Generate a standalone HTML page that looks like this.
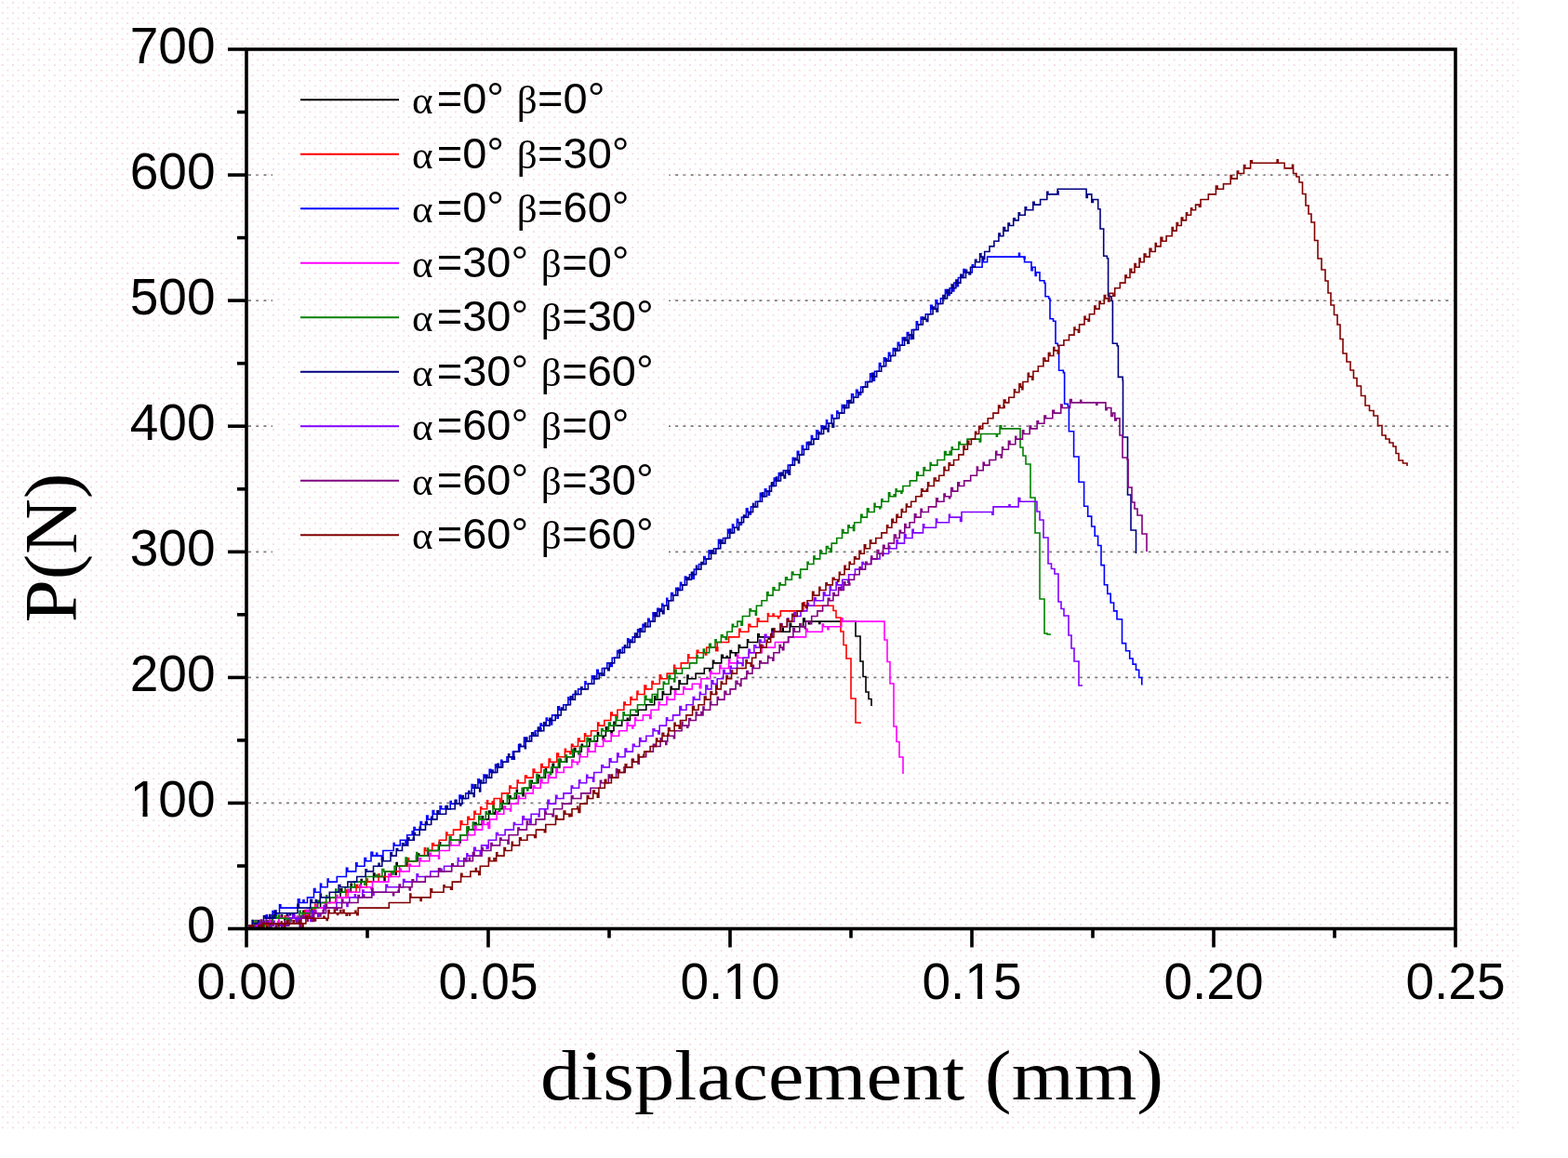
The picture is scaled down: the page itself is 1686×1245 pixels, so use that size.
<!DOCTYPE html>
<html><head><meta charset="utf-8"><title>P-displacement</title>
<style>
html,body{margin:0;padding:0;background:#fff;}
body{width:1686px;height:1245px;overflow:hidden;}
svg{display:block;}
.t{font-family:"Liberation Sans",Arial,sans-serif;}
.s{font-family:"Liberation Serif","Times New Roman",serif;}
</style></head><body>
<svg width="1686" height="1245" viewBox="0 0 1686 1245">
<rect x="0" y="0" width="1686" height="1245" fill="#ffffff"/>
<g stroke="#7a7a7a" stroke-width="1.8" stroke-dasharray="3 5.2" fill="none"><line x1="267.0" y1="863.4" x2="1563.0" y2="863.4"/><line x1="267.0" y1="728.4" x2="1563.0" y2="728.4"/><line x1="267.0" y1="593.3" x2="1563.0" y2="593.3"/><line x1="267.0" y1="458.2" x2="1563.0" y2="458.2"/><line x1="267.0" y1="323.1" x2="1563.0" y2="323.1"/><line x1="267.0" y1="188.1" x2="1563.0" y2="188.1"/></g>
<rect x="293" y="62" width="426" height="546" fill="#ffffff"/>
<defs><pattern id="dots" x="0" y="0" width="11.2" height="11.2" patternUnits="userSpaceOnUse"><circle cx="2.8" cy="2.8" r="0.95" fill="#f2cddd"/><circle cx="8.4" cy="8.4" r="0.95" fill="#f2cddd"/><circle cx="8.4" cy="2.8" r="0.9" fill="#eef8fa"/><circle cx="2.8" cy="8.4" r="0.9" fill="#f2f9e8"/></pattern></defs>
<rect x="0" y="0" width="1633" height="1217" fill="url(#dots)"/>
<path d="M265.0 998.5 H268.1 V995.6 H269.1 V998.5 H274.3 V989.8 H275.8 V992.9 H280.6 V990.0 H281.6 V992.9 H286.8 V996.5 H287.8 V992.9 H289.9 V989.3 H290.9 V992.9 H293.0 V983.6 H294.4 V987.3 H302.5 V983.9 H303.5 V987.3 H305.8 V989.0 H306.8 V987.3 H309.0 V990.6 H310.0 V987.3 H318.8 V990.8 H319.8 V987.3 H325.2 V984.8 H326.2 V987.3 H325.9 V979.3 H327.6 V981.7 H328.9 V984.8 H329.9 V981.7 H331.9 V985.2 H332.9 V981.7 H334.9 V979.1 H335.9 V981.7 H335.3 V976.1 H344.6 V970.5 H354.7 V964.9 H366.0 V955.7 H367.7 V959.3 H377.2 V950.3 H378.3 V953.7 H388.2 V945.6 H389.2 V948.1 H401.6 V939.0 H402.9 V942.5 H413.1 V946.7 H414.0 V936.9 H425.2 V940.2 H426.2 V936.9 H426.1 V927.5 H427.2 V931.3 H437.3 V929.6 H438.3 V931.3 H437.5 V923.7 H438.6 V925.7 H449.0 V918.1 H450.7 V920.1 H460.5 V914.5 H472.2 V905.7 H473.6 V908.9 H483.6 V903.3 H493.9 V905.9 H495.1 V897.7 H503.1 V889.1 H504.0 V892.1 H510.5 V884.5 H512.0 V886.5 H518.2 V877.7 H519.5 V880.9 H525.5 V872.0 H527.1 V875.3 H531.1 V873.5 H532.1 V875.3 H532.7 V869.7 H540.0 V861.0 H541.2 V864.1 H547.7 V855.8 H549.1 V858.5 H555.4 V849.4 H556.3 V852.9 H562.0 V855.6 H563.1 V847.3 H571.1 V839.4 H572.3 V841.7 H578.8 V833.5 H580.0 V836.1 H586.5 V826.9 H587.5 V830.5 H594.2 V821.2 H595.5 V824.9 H601.9 V816.3 H603.0 V819.3 H609.6 V813.7 H617.3 V804.6 H618.8 V808.1 H625.3 V800.3 H626.4 V802.5 H633.9 V794.3 H635.2 V796.9 H642.5 V787.5 H643.6 V791.3 H648.2 V795.1 H649.2 V791.3 H651.4 V781.8 H652.9 V785.7 H657.1 V788.4 H658.1 V785.7 H660.0 V776.4 H661.7 V780.1 H668.7 V774.5 H674.4 V772.3 H675.4 V774.5 H677.5 V768.9 H686.2 V763.3 H694.8 V757.7 H703.7 V748.7 H704.7 V752.1 H712.3 V743.5 H713.6 V746.5 H721.2 V738.3 H722.3 V740.9 H730.1 V731.8 H731.3 V735.3 H739.0 V726.1 H740.0 V729.7 H748.1 V724.1 H757.3 V718.5 H762.9 V721.6 H763.9 V718.5 H766.5 V710.4 H767.7 V712.9 H775.7 V704.4 H777.3 V707.3 H781.3 V705.5 H782.3 V707.3 H785.1 V699.6 H786.5 V701.7 H790.7 V705.0 H791.7 V701.7 H794.3 V693.5 H795.6 V696.1 H803.6 V687.8 H804.6 V690.5 H814.8 V681.9 H816.3 V684.9 H826.2 V687.0 H827.2 V684.9 H830.0 V676.1 H831.4 V679.3 H841.2 V675.6 H842.2 V679.3 H849.3 V670.4 H850.6 V673.7 H863.7 V665.1 H865.3 V668.1 H869.4 V670.7 H870.4 V668.1 H880.8 V670.5 H881.8 V668.1 H917.0 H920.0 V684.0 H925.0 V711.0 H928.0 V727.5 H931.0 V744.0 H934.0 V751.5 H937.0 V759.0" fill="none" stroke="#000000" stroke-width="1.6" stroke-linejoin="miter"/>
<path d="M265.0 998.5 H268.2 V995.9 H269.2 V998.5 H271.3 V995.0 H272.3 V998.5 H276.7 V989.9 H277.9 V992.9 H279.8 V996.7 H280.8 V992.9 H283.0 V996.5 H284.0 V992.9 H286.1 V995.2 H287.1 V992.9 H289.3 V996.1 H290.3 V992.9 H292.5 V989.5 H293.5 V992.9 H299.8 V985.3 H300.8 V987.3 H306.2 V984.8 H307.2 V987.3 H309.4 V990.2 H310.4 V987.3 H312.6 V990.4 H313.6 V987.3 H319.1 V989.5 H320.1 V987.3 H322.3 V989.1 H323.3 V987.3 H327.9 V978.7 H329.6 V981.7 H331.0 V984.7 H332.0 V981.7 H337.3 V977.9 H338.3 V981.7 H338.8 V972.2 H339.9 V976.1 H349.6 V970.5 H360.8 V962.7 H362.2 V964.9 H372.0 V956.7 H373.5 V959.3 H383.0 V951.4 H384.6 V953.7 H394.3 V945.1 H395.3 V948.1 H407.0 V939.7 H408.0 V942.5 H420.6 V936.9 H429.6 V931.3 H438.5 V922.8 H439.6 V925.7 H447.4 V920.1 H456.4 V911.9 H457.6 V914.5 H464.7 V906.7 H466.4 V908.9 H472.3 V903.3 H479.8 V895.1 H480.9 V897.7 H487.5 V892.1 H495.2 V882.9 H496.8 V886.5 H502.9 V878.4 H504.5 V880.9 H509.9 V872.3 H511.3 V875.3 H516.7 V867.7 H517.8 V869.7 H523.7 V860.9 H524.6 V864.1 H529.3 V861.8 H530.3 V864.1 H530.2 V868.3 H531.2 V858.5 H537.7 V862.9 H539.5 V852.9 H547.9 V845.1 H549.3 V847.3 H556.2 V839.1 H557.2 V841.7 H564.6 V834.0 H566.4 V836.1 H573.2 V827.1 H574.7 V830.5 H581.8 V821.6 H583.2 V824.9 H590.2 V816.1 H591.6 V819.3 H598.8 V810.0 H600.5 V813.7 H607.4 V805.3 H608.4 V808.1 H612.9 V810.4 H613.9 V808.1 H614.5 V800.2 H616.0 V802.5 H621.5 V794.0 H623.2 V796.9 H628.6 V788.7 H629.7 V791.3 H635.6 V785.7 H642.7 V777.1 H643.9 V780.1 H649.8 V774.5 H656.8 V766.1 H658.2 V768.9 H662.4 V771.6 H663.9 V763.3 H670.9 V755.0 H672.2 V757.7 H678.0 V749.5 H679.4 V752.1 H685.0 V743.4 H686.0 V746.5 H693.0 V737.0 H694.7 V740.9 H701.0 V732.6 H702.2 V735.3 H709.3 V725.9 H710.7 V729.7 H717.2 V724.1 H724.7 V715.4 H725.6 V718.5 H732.3 V712.9 H739.8 V703.8 H740.8 V707.3 H749.3 V699.4 H750.8 V701.7 H758.4 V703.9 H759.7 V696.1 H770.8 V699.8 H771.8 V696.1 H769.7 V699.6 H771.2 V690.5 H783.6 V684.9 H794.8 V676.2 H796.1 V679.3 H804.9 V671.4 H806.7 V673.7 H814.3 V665.0 H816.0 V668.1 H825.5 V659.8 H826.5 V662.5 H831.1 V660.1 H832.1 V662.5 H836.6 V664.6 H837.6 V662.5 H839.3 V656.9 H863.9 V647.9 H865.3 V651.3 H893.0 H896.0 V656.5 H899.0 V664.0 H904.0 V679.0 H907.0 V693.5 H910.0 V708.0 H915.0 V751.0 H920.0 V777.0 H925.0 V778.0" fill="none" stroke="#ff0000" stroke-width="1.6" stroke-linejoin="miter"/>
<path d="M265.0 998.5 H268.2 V995.0 H269.2 V998.5 H271.4 V995.1 H272.4 V998.5 H274.6 V996.8 H275.6 V998.5 H275.4 V997.5 H277.0 V992.9 H286.3 V983.9 H287.3 V987.3 H289.4 V985.3 H290.4 V987.3 H292.5 V984.0 H293.5 V987.3 H293.1 V979.5 H294.7 V981.7 H296.3 V984.3 H297.3 V981.7 H300.5 V972.8 H301.8 V976.1 H320.4 V966.8 H322.0 V970.5 H326.0 V967.8 H327.0 V970.5 H330.5 V964.9 H337.5 V955.5 H338.9 V959.3 H344.5 V950.2 H345.6 V953.7 H352.2 V945.1 H353.2 V948.1 H362.3 V942.5 H372.4 V933.2 H373.8 V936.9 H382.7 V927.9 H384.0 V931.3 H392.0 V922.5 H393.5 V925.7 H399.0 V916.2 H400.7 V920.1 H404.7 V917.2 H405.7 V920.1 H410.4 V924.5 H411.9 V914.5 H423.2 V906.6 H424.2 V908.9 H430.3 V903.3 H436.1 V907.6 H437.7 V897.7 H443.2 V893.9 H444.2 V897.7 H445.0 V889.5 H446.2 V892.1 H452.1 V883.5 H453.5 V886.5 H458.7 V877.1 H460.1 V880.9 H465.2 V871.6 H466.6 V875.3 H473.1 V866.9 H474.6 V869.7 H478.8 V867.0 H479.8 V869.7 H484.2 V861.5 H485.2 V864.1 H494.0 V855.1 H495.4 V858.5 H500.7 V852.9 H507.2 V843.5 H508.6 V847.3 H513.9 V837.8 H515.4 V841.7 H520.1 V833.0 H521.4 V836.1 H526.2 V827.4 H527.8 V830.5 H532.6 V822.1 H534.0 V824.9 H538.8 V817.3 H539.9 V819.3 H545.0 V813.7 H550.2 V816.2 H551.4 V808.1 H557.6 V800.5 H558.9 V802.5 H563.5 V793.0 H564.4 V796.9 H569.5 V791.3 H575.1 V788.4 H576.1 V791.3 H575.3 V785.7 H580.9 V783.1 H581.9 V785.7 H581.1 V778.0 H582.5 V780.1 H587.3 V772.0 H588.5 V774.5 H592.3 V778.9 H593.6 V768.9 H599.2 V772.3 H600.2 V768.9 H599.8 V759.9 H601.4 V763.3 H605.8 V757.7 H610.9 V749.9 H611.9 V752.1 H616.0 V746.5 H621.6 V740.9 H629.0 V732.8 H630.0 V735.3 H636.4 V726.8 H637.4 V729.7 H641.8 V720.2 H643.2 V724.1 H646.1 V726.3 H647.4 V718.5 H652.8 V712.9 H656.5 V716.4 H658.2 V707.3 H663.7 V699.5 H665.1 V701.7 H669.3 V696.1 H674.7 V686.8 H675.9 V690.5 H680.2 V684.9 H685.6 V676.9 H687.3 V679.3 H691.1 V671.3 H692.5 V673.7 H696.7 V665.3 H698.1 V668.1 H702.1 V658.7 H703.4 V662.5 H706.8 V654.2 H708.3 V656.9 H711.8 V649.2 H712.8 V651.3 H716.8 V643.3 H717.7 V645.7 H721.7 V637.6 H723.4 V640.1 H726.7 V632.2 H727.7 V634.5 H731.5 V626.2 H732.7 V628.9 H736.4 V620.1 H737.7 V623.3 H741.4 V617.7 H744.9 V622.1 H746.3 V612.1 H751.5 V606.5 H756.8 V598.5 H758.2 V600.9 H762.2 V591.9 H763.4 V595.3 H767.5 V589.7 H772.5 V580.2 H774.0 V584.1 H777.5 V578.5 H782.5 V569.2 H783.9 V572.9 H787.5 V564.1 H788.7 V567.3 H792.4 V558.4 H793.7 V561.7 H796.2 V564.1 H797.4 V556.1 H802.4 V546.9 H804.0 V550.5 H805.8 V553.0 H807.4 V544.9 H812.4 V539.3 H817.4 V530.4 H818.6 V533.7 H822.4 V525.9 H823.8 V528.1 H826.4 V532.1 H827.4 V522.5 H832.3 V514.1 H833.6 V516.9 H837.3 V508.6 H838.5 V511.3 H842.3 V505.7 H846.1 V508.5 H847.3 V500.1 H852.3 V492.2 H853.2 V494.5 H857.3 V485.2 H858.8 V488.9 H862.3 V479.4 H863.6 V483.3 H867.3 V475.5 H868.3 V477.7 H872.4 V468.5 H873.6 V472.1 H877.8 V462.8 H879.5 V466.5 H883.2 V457.9 H884.6 V460.9 H888.5 V451.8 H889.5 V455.3 H894.1 V446.3 H895.2 V449.7 H899.8 V442.0 H900.9 V444.1 H905.3 V435.6 H906.4 V438.5 H910.7 V430.9 H911.9 V432.9 H915.6 V423.8 H917.4 V427.3 H920.6 V419.3 H922.1 V421.7 H924.0 V424.5 H925.6 V416.1 H930.6 V410.5 H935.6 V401.8 H936.6 V404.9 H938.9 V409.2 H940.4 V399.3 H945.4 V390.5 H946.8 V393.7 H950.4 V384.8 H952.0 V388.1 H955.4 V379.4 H956.9 V382.5 H960.3 V374.5 H961.9 V376.9 H965.3 V368.2 H966.7 V371.3 H970.3 V363.0 H971.8 V365.7 H975.3 V357.5 H976.9 V360.1 H979.3 V364.4 H980.3 V354.5 H985.3 V345.9 H986.6 V348.9 H990.2 V341.1 H991.9 V343.3 H995.3 V337.7 H1000.7 V328.3 H1002.2 V332.1 H1006.1 V322.9 H1007.7 V326.5 H1011.4 V320.9 H1016.4 V311.6 H1018.0 V315.3 H1019.5 V317.5 H1021.1 V309.7 H1024.5 V312.9 H1025.8 V304.1 H1029.0 V307.8 H1030.4 V298.5 H1036.0 V289.5 H1037.4 V292.9 H1045.3 V284.7 H1046.5 V287.3 H1056.1 V277.9 H1057.5 V281.7 H1061.6 V276.1 H1095.5 V272.3 H1096.5 V276.1 H1101.1 V277.9 H1102.1 V276.1 H1101.6 V281.7 H1109.0 V290.6 H1110.3 V287.3 H1113.2 V296.4 H1114.1 V292.9 H1115.7 H1118.0 V301.8 H1122.9 V304.2 H1124.0 V318.7 H1127.7 V321.0 H1129.0 V342.8 H1132.5 V345.2 H1135.0 V369.3 H1137.3 V371.7 H1138.6 V398.2 H1143.4 V400.6 H1144.6 V434.3 H1148.2 V436.7 H1149.4 V463.7 H1154.6 V491.0 H1160.0 V518.3 H1165.6 V544.2 H1169.7 V555.1 H1173.7 V566.0 H1177.2 V576.2 H1180.6 V586.5 H1184.0 V607.6 H1187.4 V628.8 H1190.8 V638.4 H1194.2 V648.0 H1197.6 V656.9 H1201.0 V665.7 H1206.5 V691.6 H1210.6 V699.8 H1214.7 V708.0 H1218.1 V714.1 H1221.5 V720.3 H1224.7 V728.5 H1227.8 V736.6" fill="none" stroke="#0000ff" stroke-width="1.6" stroke-linejoin="miter"/>
<path d="M265.0 998.5 H274.5 V994.6 H275.5 V998.5 H276.7 V989.6 H278.2 V992.9 H286.1 V989.2 H287.1 V992.9 H289.3 V989.3 H290.3 V992.9 H292.5 V995.0 H293.5 V992.9 H298.8 V990.5 H299.8 V992.9 H299.8 V984.8 H301.2 V987.3 H309.5 V984.2 H310.5 V987.3 H316.0 V983.6 H317.0 V987.3 H319.2 V985.1 H320.2 V987.3 H329.6 V978.3 H331.3 V981.7 H332.7 V978.9 H333.7 V981.7 H338.8 V979.6 H339.8 V981.7 H339.5 V973.6 H340.8 V976.1 H348.5 V978.3 H349.6 V970.5 H361.9 V962.5 H363.1 V964.9 H367.6 V967.4 H368.6 V964.9 H374.2 V956.2 H375.5 V959.3 H386.8 V951.6 H388.1 V953.7 H398.7 V955.8 H400.5 V948.1 H417.8 V939.7 H419.1 V942.5 H429.6 V934.3 H431.3 V936.9 H440.2 V929.3 H441.4 V931.3 H451.1 V922.9 H452.6 V925.7 H461.8 V917.4 H463.4 V920.1 H471.5 V923.1 H472.4 V914.5 H483.3 V905.4 H485.0 V908.9 H494.0 V903.3 H502.6 V895.4 H503.5 V897.7 H510.6 V888.3 H512.0 V892.1 H518.6 V882.8 H520.2 V886.5 H524.1 V884.4 H525.1 V886.5 H525.1 V890.4 H526.6 V880.9 H534.1 V872.7 H535.6 V875.3 H541.8 V867.0 H543.5 V869.7 H548.5 V872.0 H549.5 V864.1 H557.2 V855.7 H558.4 V858.5 H565.2 V852.9 H573.2 V845.1 H574.9 V847.3 H581.2 V838.0 H582.9 V841.7 H589.5 V833.4 H590.9 V836.1 H598.0 V826.6 H599.3 V830.5 H606.3 V824.9 H614.9 V817.0 H616.5 V819.3 H620.5 V821.6 H621.5 V819.3 H623.2 V810.3 H624.3 V813.7 H631.7 V804.3 H633.1 V808.1 H640.1 V799.3 H641.5 V802.5 H648.6 V794.5 H650.3 V796.9 H657.2 V788.7 H658.2 V791.3 H665.6 V785.7 H674.2 V777.0 H675.3 V780.1 H679.8 V782.9 H680.8 V780.1 H682.8 V771.5 H683.7 V774.5 H691.4 V768.9 H698.7 V772.4 H700.0 V763.3 H708.3 V754.7 H709.4 V757.7 H716.9 V749.4 H718.1 V752.1 H725.5 V742.8 H726.7 V746.5 H734.8 V738.9 H736.4 V740.9 H744.3 V735.3 H752.3 V739.7 H753.8 V729.7 H763.7 V721.7 H765.1 V724.1 H773.8 V715.3 H775.0 V718.5 H783.6 V709.0 H784.7 V712.9 H792.6 V704.2 H793.7 V707.3 H805.1 V701.7 H819.2 V693.8 H820.8 V696.1 H833.4 V690.5 H848.1 V684.9 H866.6 V676.3 H868.2 V679.3 H884.3 V671.1 H885.4 V673.7 H890.0 V676.7 H891.0 V673.7 H904.8 V664.9 H906.0 V668.1 H947.0 H951.0 V688.0 H954.0 V711.5 H957.0 V735.0 H961.0 V781.0 H964.0 V797.5 H967.0 V814.0 H971.0 V832.0" fill="none" stroke="#ff00ff" stroke-width="1.6" stroke-linejoin="miter"/>
<path d="M265.0 998.5 H268.1 V996.6 H269.1 V998.5 H271.2 V996.7 H272.2 V998.5 H274.3 V989.5 H275.4 V992.9 H280.6 V991.1 H281.6 V992.9 H283.7 V995.6 H284.7 V992.9 H286.8 V989.9 H287.8 V992.9 H289.9 V996.7 H290.9 V992.9 H293.0 V984.9 H294.3 V987.3 H296.2 V985.1 H297.2 V987.3 H299.3 V984.1 H300.3 V987.3 H308.9 V989.4 H309.9 V987.3 H312.1 V990.6 H313.1 V987.3 H318.6 V990.8 H319.6 V987.3 H321.8 V984.2 H322.8 V987.3 H322.0 V979.2 H323.2 V981.7 H325.2 V984.5 H326.2 V981.7 H333.1 V976.1 H341.7 V968.2 H343.2 V970.5 H350.7 V962.8 H351.7 V964.9 H360.8 V956.0 H361.8 V959.3 H371.1 V953.7 H381.2 V948.1 H391.9 V951.2 H393.5 V942.5 H404.9 V940.6 H405.9 V942.5 H410.9 V934.6 H412.7 V936.9 H422.0 V940.0 H423.0 V936.9 H424.1 V931.3 H436.1 V922.1 H437.4 V925.7 H447.8 V916.5 H448.7 V920.1 H459.6 V912.1 H460.6 V914.5 H471.3 V908.9 H483.3 V899.5 H485.0 V903.3 H495.1 V897.7 H501.9 V889.0 H503.3 V892.1 H508.4 V884.1 H509.4 V886.5 H514.8 V877.3 H516.0 V880.9 H522.3 V872.7 H523.3 V875.3 H530.0 V866.2 H530.9 V869.7 H536.5 V872.2 H537.7 V864.1 H545.4 V854.8 H546.6 V858.5 H553.4 V852.9 H561.2 V847.3 H566.8 V850.0 H567.8 V847.3 H569.2 V839.3 H570.9 V841.7 H577.0 V832.5 H578.2 V836.1 H584.9 V827.9 H586.4 V830.5 H591.5 V832.6 H592.6 V824.9 H600.3 V816.4 H602.0 V819.3 H608.0 V811.7 H609.3 V813.7 H615.7 V806.1 H616.6 V808.1 H621.7 V810.8 H623.4 V802.5 H631.1 V793.4 H632.2 V796.9 H639.0 V791.3 H646.7 V783.6 H648.2 V785.7 H654.5 V777.1 H656.2 V780.1 H662.2 V770.9 H663.4 V774.5 H670.1 V765.9 H671.2 V768.9 H677.8 V763.3 H683.8 V765.4 H685.5 V757.7 H693.3 V748.2 H694.9 V752.1 H698.9 V754.3 H699.9 V752.1 H699.6 V755.1 H701.2 V746.5 H706.2 V750.8 H707.3 V740.9 H713.3 V733.2 H714.6 V735.3 H719.1 V726.3 H720.6 V729.7 H724.7 V732.9 H725.7 V729.7 H725.8 V720.2 H727.1 V724.1 H733.5 V718.5 H741.5 V712.9 H749.2 V704.9 H750.2 V707.3 H756.3 V698.0 H757.5 V701.7 H762.7 V692.2 H764.3 V696.1 H769.0 V687.9 H770.1 V690.5 H775.4 V682.8 H777.1 V684.9 H780.3 V687.4 H781.8 V679.3 H787.3 V671.2 H788.5 V673.7 H792.9 V668.1 H797.0 V672.2 H798.4 V662.5 H806.1 V654.8 H807.5 V656.9 H812.4 V661.3 H813.4 V651.3 H819.0 V645.7 H824.7 V636.8 H826.0 V640.1 H831.1 V631.9 H832.8 V634.5 H837.9 V626.7 H839.2 V628.9 H844.6 V620.7 H846.3 V623.3 H851.4 V615.1 H852.9 V617.7 H859.6 V621.4 H860.7 V612.1 H868.1 V604.2 H869.2 V606.5 H874.9 V598.1 H876.1 V600.9 H881.7 V591.9 H883.1 V595.3 H888.4 V587.5 H890.2 V589.7 H892.9 V593.5 H894.2 V584.1 H899.7 V578.5 H905.5 V569.6 H906.9 V572.9 H911.9 V564.9 H913.2 V567.3 H917.5 V564.8 H918.5 V567.3 H917.5 V570.5 H918.7 V561.7 H925.7 V553.2 H927.0 V556.1 H932.4 V546.7 H934.0 V550.5 H940.1 V541.3 H941.0 V544.9 H945.8 V546.7 H946.8 V544.9 H947.8 V536.9 H949.0 V539.3 H955.5 V529.9 H956.8 V533.7 H961.2 V531.8 H962.2 V533.7 H963.2 V525.8 H964.1 V528.1 H968.9 V530.1 H969.9 V528.1 H970.9 V522.5 H978.4 V516.9 H985.7 V507.6 H987.2 V511.3 H993.1 V502.9 H994.6 V505.7 H1000.2 V497.6 H1001.1 V500.1 H1007.9 V494.5 H1015.6 V485.6 H1017.1 V488.9 H1021.2 V485.2 H1022.2 V488.9 H1023.3 V480.7 H1024.3 V483.3 H1030.9 V475.3 H1032.4 V477.7 H1040.0 V472.1 H1053.3 V475.0 H1054.6 V466.5 H1071.4 V469.2 H1072.4 V466.5 H1075.1 V457.8 H1076.7 V460.9 H1094.0 H1097.0 V481.0 H1100.0 V490.0 H1103.0 V499.0 H1108.0 V535.0 H1113.0 V573.0 H1118.0 V644.0 H1123.0 V681.0 H1126.0 V682.0 H1129.0 V683.0" fill="none" stroke="#008000" stroke-width="1.6" stroke-linejoin="miter"/>
<path d="M265.0 998.5 H271.2 V989.5 H272.1 V992.9 H277.6 V989.9 H278.6 V992.9 H280.8 V995.3 H281.8 V992.9 H283.5 V984.7 H285.3 V987.3 H289.9 V983.5 H290.9 V987.3 H293.1 V985.3 H294.1 V987.3 H295.7 V979.0 H297.0 V981.7 H308.4 V984.4 H309.4 V981.7 H311.6 V983.7 H312.6 V981.7 H314.9 V985.1 H315.9 V981.7 H320.0 V972.4 H321.4 V976.1 H333.8 V967.2 H335.4 V970.5 H339.4 V967.6 H340.4 V970.5 H344.2 V961.0 H345.3 V964.9 H354.3 V959.3 H364.1 V951.6 H365.9 V953.7 H373.9 V948.1 H383.7 V942.5 H393.1 V934.9 H394.4 V936.9 H401.5 V931.3 H407.1 V928.3 H408.1 V931.3 H410.8 V922.2 H411.8 V925.7 H420.0 V916.7 H421.4 V920.1 H426.2 V912.5 H427.7 V914.5 H432.5 V906.8 H434.0 V908.9 H438.7 V900.8 H439.9 V903.3 H444.3 V900.9 H445.3 V903.3 H445.0 V895.6 H446.4 V897.7 H451.2 V889.3 H452.4 V892.1 H457.5 V883.7 H459.3 V886.5 H463.7 V878.3 H464.8 V880.9 H470.0 V871.9 H471.5 V875.3 H479.6 V866.6 H481.3 V869.7 H489.2 V860.3 H491.0 V864.1 H494.8 V865.9 H495.8 V864.1 H496.9 V855.5 H498.2 V858.5 H503.7 V850.5 H504.9 V852.9 H509.2 V856.5 H510.2 V852.9 H510.2 V843.8 H511.7 V847.3 H515.7 V851.0 H516.7 V847.3 H516.6 V839.0 H517.8 V841.7 H522.7 V833.3 H524.0 V836.1 H528.7 V828.1 H530.1 V830.5 H534.8 V821.3 H536.4 V824.9 H540.6 V819.3 H546.6 V810.9 H547.7 V813.7 H552.3 V816.2 H553.3 V813.7 H552.7 V808.1 H558.7 V800.2 H559.9 V802.5 H564.4 V804.7 H565.4 V802.5 H565.2 V793.0 H566.8 V796.9 H571.7 V787.7 H573.5 V791.3 H578.4 V782.0 H579.9 V785.7 H584.8 V776.8 H586.5 V780.1 H590.9 V772.2 H592.2 V774.5 H597.2 V768.9 H603.3 V761.1 H604.5 V763.3 H608.6 V757.7 H613.4 V748.9 H615.2 V752.1 H618.4 V743.1 H619.3 V746.5 H624.8 V738.7 H626.0 V740.9 H632.4 V735.3 H638.8 V726.7 H639.9 V729.7 H644.2 V724.1 H648.0 V726.2 H649.8 V718.5 H653.7 V720.7 H655.2 V712.9 H660.7 V707.3 H666.1 V698.5 H667.1 V701.7 H671.5 V693.7 H672.6 V696.1 H677.2 V688.1 H678.6 V690.5 H682.6 V681.0 H684.4 V684.9 H688.1 V675.7 H689.2 V679.3 H693.5 V669.9 H694.6 V673.7 H699.2 V668.1 H704.2 V658.7 H705.4 V662.5 H709.2 V654.9 H710.8 V656.9 H712.4 V659.6 H714.0 V651.3 H717.9 V655.2 H718.9 V645.7 H723.9 V640.1 H728.8 V632.3 H729.8 V634.5 H733.8 V628.9 H738.6 V621.1 H740.3 V623.3 H743.5 V615.3 H745.0 V617.7 H748.6 V608.3 H749.5 V612.1 H753.9 V604.5 H755.3 V606.5 H759.2 V600.9 H764.6 V591.7 H766.2 V595.3 H769.8 V589.7 H774.8 V580.5 H775.9 V584.1 H779.8 V578.5 H784.8 V569.0 H785.8 V572.9 H789.6 V567.3 H793.1 V569.6 H794.6 V561.7 H799.6 V554.1 H801.0 V556.1 H804.6 V550.5 H809.6 V541.6 H810.5 V544.9 H814.6 V539.3 H819.5 V529.8 H820.7 V533.7 H824.5 V528.1 H829.5 V518.9 H831.0 V522.5 H834.5 V513.1 H835.6 V516.9 H839.5 V508.2 H841.1 V511.3 H843.1 V513.9 H844.5 V505.7 H848.1 V510.1 H849.5 V500.1 H854.5 V492.5 H855.7 V494.5 H858.5 V497.6 H859.5 V488.9 H864.4 V483.3 H869.5 V475.4 H871.3 V477.7 H874.9 V472.1 H880.2 V464.5 H881.4 V466.5 H885.6 V458.3 H887.1 V460.9 H890.1 V463.9 H891.0 V455.3 H895.0 V459.1 H896.6 V449.7 H902.3 V444.1 H907.8 V435.6 H908.9 V438.5 H912.8 V430.5 H914.2 V432.9 H917.8 V427.3 H922.8 V421.7 H927.8 V416.1 H932.8 V410.5 H937.7 V401.2 H939.2 V404.9 H942.7 V399.3 H947.7 V393.7 H952.7 V385.8 H953.7 V388.1 H957.7 V382.5 H962.7 V374.7 H963.8 V376.9 H967.6 V371.3 H972.6 V363.0 H973.7 V365.7 H975.8 V369.3 H977.4 V360.1 H981.2 V364.1 H982.4 V354.5 H987.4 V348.9 H992.4 V341.3 H994.2 V343.3 H996.2 V345.4 H997.8 V337.7 H1003.1 V330.0 H1004.3 V332.1 H1007.0 V335.0 H1008.5 V326.5 H1013.9 V317.5 H1015.6 V320.9 H1018.5 V311.6 H1020.2 V315.3 H1023.2 V306.1 H1024.5 V309.7 H1027.9 V301.1 H1029.5 V304.1 H1032.9 V295.2 H1034.5 V298.5 H1038.5 V290.2 H1039.6 V292.9 H1042.0 V295.0 H1043.5 V287.3 H1048.5 V279.2 H1049.9 V281.7 H1053.6 V272.8 H1054.9 V276.1 H1057.0 V278.4 H1058.7 V270.5 H1064.0 V264.9 H1068.9 V259.3 H1073.9 V251.0 H1075.2 V253.7 H1078.9 V244.6 H1080.6 V248.1 H1084.0 V240.1 H1085.4 V242.5 H1089.7 V234.9 H1091.3 V236.9 H1095.2 V228.7 H1096.5 V231.3 H1102.2 V222.9 H1103.6 V225.7 H1110.8 V217.2 H1112.2 V220.1 H1118.6 V214.5 H1125.8 V206.4 H1126.9 V208.9 H1137.0 V206.1 H1138.0 V208.9 H1137.2 V203.3 H1168.1 V212.4 H1169.3 V208.9 H1173.8 V217.5 H1175.4 V214.5 H1175.9 H1180.7 V224.7 H1183.0 V246.0 H1186.7 V275.3 H1190.4 V277.7 H1191.6 V318.7 H1195.2 V323.5 H1196.4 V369.3 H1201.2 V371.7 H1202.4 V405.4 H1207.2 V409.0 H1207.5 V470.0 H1212.5 V472.0 H1212.5 V532.0 H1216.0 V534.0 H1216.0 V570.0 H1221.5 V572.0 H1221.5 V595.0" fill="none" stroke="#000080" stroke-width="1.6" stroke-linejoin="miter"/>
<path d="M265.0 998.5 H268.2 V995.7 H269.2 V998.5 H271.4 V996.8 H272.4 V998.5 H274.5 V996.2 H275.5 V998.5 H278.2 V992.9 H287.8 V990.6 H288.8 V992.9 H290.9 V996.5 H291.9 V992.9 H294.1 V990.3 H295.1 V992.9 H300.5 V995.1 H301.5 V992.9 H303.8 V994.8 H304.8 V992.9 H307.0 V995.4 H308.0 V992.9 H310.2 V994.7 H311.2 V992.9 H311.5 V987.3 H314.8 V984.2 H315.8 V987.3 H318.0 V990.6 H319.0 V987.3 H321.2 V989.9 H322.2 V987.3 H324.5 V984.6 H325.5 V987.3 H327.5 V985.5 H328.5 V987.3 H333.9 V990.4 H334.9 V987.3 H335.3 V979.4 H336.2 V981.7 H338.5 V979.1 H339.5 V981.7 H341.7 V985.4 H342.7 V981.7 H348.2 V973.7 H349.3 V976.1 H361.9 V970.5 H373.0 V974.4 H374.0 V970.5 H375.8 V964.9 H381.4 V961.9 H382.4 V964.9 H389.8 V957.1 H391.0 V959.3 H401.0 V962.5 H402.0 V959.3 H415.0 V951.2 H416.6 V953.7 H433.6 V945.5 H435.0 V948.1 H448.1 V939.7 H449.5 V942.5 H462.8 V936.9 H474.0 V934.3 H475.0 V936.9 H477.5 V931.3 H492.3 V922.6 H493.2 V925.7 H501.9 V917.7 H502.8 V920.1 H509.6 V911.3 H511.3 V914.5 H516.3 V918.6 H517.6 V908.9 H523.3 V912.3 H524.3 V908.9 H524.4 V911.8 H525.3 V903.3 H533.6 V895.6 H535.4 V897.7 H543.1 V892.1 H552.4 V884.5 H553.6 V886.5 H561.9 V877.7 H563.5 V880.9 H569.7 V885.0 H571.1 V875.3 H579.1 V877.9 H580.0 V869.7 H585.6 V871.7 H586.6 V869.7 H589.0 V860.4 H590.5 V864.1 H597.6 V855.4 H598.9 V858.5 H606.0 V852.9 H614.3 V845.1 H615.7 V847.3 H622.6 V838.9 H623.8 V841.7 H630.7 V833.2 H631.8 V836.1 H637.6 V840.3 H638.7 V830.5 H646.8 V822.8 H648.5 V824.9 H655.3 V815.8 H657.0 V819.3 H663.7 V810.0 H665.1 V813.7 H672.1 V805.1 H673.7 V808.1 H680.4 V800.3 H682.2 V802.5 H687.7 V793.6 H689.0 V796.9 H694.8 V791.3 H702.1 V783.7 H703.8 V785.7 H707.7 V788.9 H709.2 V780.1 H716.5 V771.9 H717.7 V774.5 H723.6 V768.9 H730.9 V759.5 H732.5 V763.3 H738.0 V757.7 H745.3 V749.5 H746.8 V752.1 H752.4 V744.2 H753.4 V746.5 H758.9 V737.0 H760.6 V740.9 H765.0 V731.7 H766.7 V735.3 H769.9 V739.6 H771.2 V729.7 H777.7 V720.5 H779.2 V724.1 H785.2 V716.4 H786.2 V718.5 H792.6 V710.8 H793.6 V712.9 H798.1 V715.8 H799.1 V712.9 H799.0 V707.3 H805.0 V698.3 H806.3 V701.7 H810.9 V693.8 H812.7 V696.1 H816.7 V688.0 H818.0 V690.5 H822.3 V682.3 H824.0 V684.9 H830.0 V679.3 H839.0 V670.6 H840.7 V673.7 H846.5 V664.8 H847.7 V668.1 H854.0 V658.7 H855.6 V662.5 H861.0 V656.9 H867.8 V648.5 H869.4 V651.3 H875.5 V642.7 H877.1 V645.7 H885.4 V637.0 H887.0 V640.1 H892.3 V630.6 H893.4 V634.5 H899.1 V625.8 H900.4 V628.9 H904.7 V633.3 H905.8 V623.3 H911.7 V626.2 H912.6 V617.7 H919.4 V612.1 H927.0 V604.5 H928.1 V606.5 H936.5 V600.9 H946.1 V595.3 H955.6 V587.3 H956.7 V589.7 H964.1 V580.8 H965.3 V584.1 H972.5 V574.8 H974.0 V578.5 H981.0 V569.2 H982.1 V572.9 H992.5 V563.7 H993.7 V567.3 H1006.5 V558.1 H1007.6 V561.7 H1020.5 V553.2 H1021.4 V556.1 H1032.6 V560.5 H1034.0 V550.5 H1066.9 V553.3 H1068.0 V544.9 H1085.0 V542.7 H1086.0 V544.9 H1095.1 V535.5 H1096.7 V539.3 H1112.0 H1115.0 V550.0 H1118.0 V559.0 H1122.0 V578.0 H1127.0 V606.0 H1130.5 V611.5 H1134.0 V617.0 H1138.0 V647.0 H1141.0 V654.5 H1144.0 V662.0 H1149.0 V683.0 H1152.0 V697.0 H1155.0 V711.0 H1160.0 V737.0 H1164.0 V737.0" fill="none" stroke="#8000ff" stroke-width="1.6" stroke-linejoin="miter"/>
<path d="M265.0 998.5 H271.4 V995.2 H272.4 V998.5 H277.8 V996.7 H278.8 V998.5 H280.3 V989.0 H281.6 V992.9 H283.5 V990.4 H284.5 V992.9 H286.7 V990.4 H287.7 V992.9 H289.9 V994.9 H290.9 V992.9 H293.1 V995.2 H294.1 V992.9 H296.3 V996.5 H297.3 V992.9 H302.8 V996.1 H303.8 V992.9 H306.0 V990.9 H307.0 V992.9 H309.2 V995.3 H310.2 V992.9 H319.0 V991.2 H320.0 V992.9 H322.2 V996.2 H323.2 V992.9 H324.0 V985.0 H325.0 V987.3 H327.1 V985.3 H328.1 V987.3 H330.3 V990.2 H331.3 V987.3 H333.5 V985.2 H334.5 V987.3 H336.7 V983.5 H337.7 V987.3 H335.9 V990.4 H337.6 V981.7 H344.0 V984.9 H345.0 V981.7 H347.2 V978.5 H348.2 V981.7 H350.5 V972.5 H351.4 V976.1 H361.9 V978.4 H362.9 V976.1 H367.6 V967.5 H368.7 V970.5 H385.0 V962.6 H386.3 V964.9 H390.7 V962.0 H391.7 V964.9 H399.8 V955.4 H401.0 V959.3 H422.6 V962.7 H423.6 V959.3 H428.2 V957.4 H429.2 V959.3 H429.1 V951.1 H430.3 V953.7 H440.3 V956.9 H441.3 V953.7 H443.1 V945.7 H444.6 V948.1 H457.3 V942.5 H471.5 V933.8 H473.0 V936.9 H485.7 V928.8 H487.2 V931.3 H498.8 V922.9 H500.6 V925.7 H504.4 V922.4 H505.4 V925.7 H508.4 V916.5 H510.0 V920.1 H518.1 V911.5 H519.2 V914.5 H527.9 V906.5 H529.1 V908.9 H537.6 V901.1 H539.0 V903.3 H546.0 V907.1 H547.1 V897.7 H556.9 V890.0 H558.2 V892.1 H566.4 V883.1 H567.5 V886.5 H576.2 V880.9 H585.8 V873.0 H587.2 V875.3 H594.0 V877.7 H595.3 V869.7 H604.6 V864.1 H614.4 V855.7 H616.0 V858.5 H624.8 V852.9 H635.0 V847.3 H645.4 V839.3 H646.6 V841.7 H654.3 V833.0 H655.8 V836.1 H662.6 V826.7 H663.8 V830.5 H671.0 V824.9 H679.6 V816.3 H681.3 V819.3 H686.0 V821.3 H687.3 V813.7 H694.7 V808.1 H702.4 V800.2 H704.1 V802.5 H710.1 V793.9 H711.2 V796.9 H715.8 V800.4 H716.8 V796.9 H717.8 V789.3 H718.9 V791.3 H724.4 V793.7 H725.5 V785.7 H733.1 V776.3 H734.0 V780.1 H738.8 V782.3 H739.8 V780.1 H740.8 V772.5 H742.5 V774.5 H748.3 V765.6 H749.3 V768.9 H753.9 V765.6 H754.9 V768.9 H756.0 V760.1 H757.0 V763.3 H763.6 V754.3 H764.7 V757.7 H771.3 V749.6 H772.5 V752.1 H779.0 V743.4 H780.7 V746.5 H785.1 V740.9 H791.1 V732.3 H792.8 V735.3 H795.7 V737.4 H796.9 V729.7 H802.9 V721.6 H804.2 V724.1 H809.0 V715.3 H810.4 V718.5 H816.8 V710.7 H818.3 V712.9 H825.7 V705.3 H826.8 V707.3 H830.9 V710.2 H831.9 V701.7 H838.1 V693.5 H839.4 V696.1 H841.3 V698.6 H842.8 V690.5 H847.5 V684.9 H852.9 V675.6 H854.4 V679.3 H859.8 V670.9 H861.5 V673.7 H865.3 V675.8 H866.3 V668.1 H871.0 V670.8 H872.7 V662.5 H878.9 V656.9 H884.6 V651.3 H890.3 V643.3 H891.9 V645.7 H895.9 V637.5 H897.3 V640.1 H901.6 V631.5 H903.3 V634.5 H907.3 V625.9 H908.8 V628.9 H912.8 V627.0 H913.8 V628.9 H913.0 V623.3 H918.5 V617.7 H924.2 V609.7 H925.8 V612.1 H930.6 V604.3 H932.1 V606.5 H936.8 V598.1 H937.8 V600.9 H943.1 V591.5 H944.8 V595.3 H948.8 V597.5 H949.8 V595.3 H949.5 V586.2 H951.0 V589.7 H955.4 V584.1 H961.4 V575.1 H963.2 V578.5 H967.3 V570.4 H968.5 V572.9 H972.8 V563.6 H974.0 V567.3 H978.1 V561.7 H983.4 V552.9 H984.9 V556.1 H990.1 V547.2 H991.3 V550.5 H998.4 V544.9 H1006.7 V535.8 H1008.3 V539.3 H1015.0 V531.1 H1016.3 V533.7 H1020.6 V535.7 H1021.6 V533.7 H1022.7 V524.5 H1024.4 V528.1 H1029.8 V518.9 H1031.4 V522.5 H1036.7 V516.9 H1043.7 V511.3 H1050.4 V502.0 H1051.4 V505.7 H1057.2 V497.4 H1058.3 V500.1 H1063.9 V494.5 H1070.7 V485.3 H1071.8 V488.9 H1076.3 V492.0 H1077.3 V488.9 H1077.6 V480.8 H1078.6 V483.3 H1084.4 V474.4 H1086.0 V477.7 H1091.8 V469.3 H1092.7 V472.1 H1099.5 V462.9 H1100.8 V466.5 H1107.2 V458.0 H1108.6 V460.9 H1115.1 V452.9 H1116.5 V455.3 H1122.9 V447.0 H1124.5 V449.7 H1131.8 V441.2 H1133.5 V444.1 H1140.7 V435.0 H1142.1 V438.5 H1150.5 V429.6 H1152.2 V432.9 H1161.7 V430.4 H1162.7 V432.9 H1178.8 V435.3 H1179.8 V432.9 H1188.9 V440.6 H1190.1 V438.5 H1194.8 V447.5 H1196.6 V444.1 H1198.8 V451.9 H1200.3 V449.7 H1201.0 H1204.0 V468.0 H1207.0 V492.0 H1212.0 V494.0 H1213.0 V524.0 H1217.0 V540.0 H1220.0 V547.0 H1223.0 V554.0 H1228.0 V574.0 H1233.0 V593.0" fill="none" stroke="#800080" stroke-width="1.6" stroke-linejoin="miter"/>
<path d="M265.0 998.5 H268.2 V994.7 H269.2 V998.5 H271.5 V994.9 H272.5 V998.5 H277.9 V995.0 H278.9 V998.5 H281.1 V994.8 H282.1 V998.5 H281.7 V997.5 H282.9 V992.9 H299.0 V996.0 H300.0 V992.9 H302.2 V991.1 H303.2 V992.9 H305.5 V996.7 H306.5 V992.9 H308.8 V989.7 H309.8 V992.9 H315.2 V989.7 H316.2 V992.9 H321.8 V990.0 H322.8 V992.9 H325.0 V996.1 H326.0 V992.9 H328.9 V985.1 H330.5 V987.3 H338.5 V990.0 H339.5 V987.3 H348.0 V985.3 H349.0 V987.3 H351.2 V989.5 H352.2 V987.3 H353.0 V978.6 H354.1 V981.7 H359.4 V978.0 H360.4 V981.7 H362.6 V983.4 H363.6 V981.7 H365.8 V978.5 H366.8 V981.7 H369.0 V978.2 H370.0 V981.7 H372.2 V984.3 H373.2 V981.7 H375.4 V984.0 H376.4 V981.7 H381.9 V979.2 H382.9 V981.7 H383.7 V983.8 H385.1 V976.1 H418.3 V970.5 H440.9 V961.1 H441.8 V964.9 H452.1 V968.4 H453.1 V964.9 H463.0 V955.9 H464.5 V959.3 H477.0 V951.7 H478.2 V953.7 H484.6 V956.2 H486.3 V948.1 H495.6 V939.3 H496.9 V942.5 H505.9 V936.9 H511.4 V933.5 H512.4 V936.9 H514.7 V940.5 H516.3 V931.3 H525.4 V922.4 H526.7 V925.7 H531.0 V922.9 H532.0 V925.7 H533.7 V916.9 H534.8 V920.1 H542.0 V911.6 H543.4 V914.5 H550.3 V905.2 H551.3 V908.9 H558.6 V900.9 H560.2 V903.3 H566.9 V897.7 H574.7 V900.4 H576.4 V892.1 H585.3 V894.6 H586.8 V886.5 H597.5 V877.1 H598.9 V880.9 H606.2 V872.0 H607.8 V875.3 H611.9 V877.6 H612.9 V875.3 H613.9 V877.4 H615.0 V869.7 H620.7 V867.3 H621.7 V869.7 H622.1 V873.4 H623.7 V864.1 H631.3 V855.5 H632.8 V858.5 H637.7 V850.0 H639.4 V852.9 H642.3 V857.1 H643.9 V847.3 H650.3 V838.3 H651.8 V841.7 H657.4 V833.1 H658.4 V836.1 H664.8 V827.7 H666.3 V830.5 H672.2 V821.9 H673.8 V824.9 H679.6 V816.5 H680.7 V819.3 H686.1 V811.2 H687.0 V813.7 H691.7 V811.6 H692.7 V813.7 H692.7 V808.1 H699.1 V802.5 H705.6 V794.1 H706.8 V796.9 H712.0 V788.3 H713.7 V791.3 H718.6 V782.9 H720.1 V785.7 H725.1 V777.4 H726.1 V780.1 H730.2 V783.1 H731.5 V774.5 H737.9 V768.9 H744.6 V759.5 H746.3 V763.3 H751.0 V757.7 H757.4 V749.1 H759.1 V752.1 H764.1 V743.8 H765.5 V746.5 H769.7 V744.0 H770.7 V746.5 H769.8 V737.3 H770.9 V740.9 H775.3 V733.0 H776.6 V735.3 H781.0 V726.6 H782.4 V729.7 H786.6 V721.0 H787.6 V724.1 H792.4 V718.5 H802.1 V709.6 H803.2 V712.9 H807.3 V716.1 H808.6 V707.3 H812.8 V701.7 H817.8 V693.2 H819.2 V696.1 H824.2 V688.4 H825.2 V690.5 H828.7 V681.5 H829.8 V684.9 H832.0 V675.8 H833.0 V679.3 H839.1 V671.0 H840.7 V673.7 H846.3 V665.8 H847.8 V668.1 H851.8 V660.2 H853.0 V662.5 H857.2 V656.9 H862.5 V648.6 H864.2 V651.3 H866.5 V653.5 H868.0 V645.7 H873.6 V636.2 H875.0 V640.1 H880.9 V631.3 H881.9 V634.5 H888.0 V626.9 H889.3 V628.9 H895.3 V621.3 H897.0 V623.3 H900.8 V625.3 H901.8 V623.3 H902.4 V615.4 H903.4 V617.7 H908.0 V608.3 H909.0 V612.1 H913.2 V604.3 H914.3 V606.5 H918.6 V598.9 H920.2 V600.9 H924.0 V592.4 H925.7 V595.3 H929.3 V585.8 H930.7 V589.7 H935.5 V580.7 H936.7 V584.1 H941.8 V578.5 H947.9 V572.9 H953.6 V564.8 H954.8 V567.3 H958.9 V558.2 H960.5 V561.7 H964.0 V553.3 H965.4 V556.1 H969.3 V547.6 H970.6 V550.5 H974.4 V542.1 H975.4 V544.9 H979.7 V539.3 H984.8 V533.7 H990.3 V531.8 H991.3 V533.7 H990.7 V525.8 H992.3 V528.1 H996.4 V526.0 H997.4 V528.1 H997.6 V518.8 H998.7 V522.5 H1004.3 V514.1 H1006.1 V516.9 H1009.7 V511.3 H1015.0 V502.4 H1016.0 V505.7 H1020.2 V497.9 H1021.6 V500.1 H1025.5 V494.5 H1030.8 V488.9 H1036.0 V479.6 H1037.3 V483.3 H1040.4 V474.2 H1041.8 V477.7 H1044.4 V472.1 H1048.6 V464.2 H1049.8 V466.5 H1052.6 V458.3 H1054.2 V460.9 H1056.7 V455.3 H1062.2 V449.7 H1067.9 V444.1 H1073.6 V436.1 H1075.1 V438.5 H1079.1 V436.3 H1080.1 V438.5 H1079.3 V430.1 H1081.0 V432.9 H1084.8 V427.3 H1090.5 V418.8 H1091.5 V421.7 H1095.9 V412.9 H1097.6 V416.1 H1098.9 V418.6 H1099.9 V410.5 H1105.3 V401.2 H1106.4 V404.9 H1109.8 V408.2 H1110.9 V399.3 H1116.3 V393.7 H1121.9 V385.1 H1123.7 V388.1 H1127.4 V379.6 H1129.0 V382.5 H1132.8 V373.6 H1133.8 V376.9 H1137.3 V379.9 H1138.5 V371.3 H1143.9 V365.7 H1149.5 V360.1 H1155.0 V352.1 H1155.9 V354.5 H1159.4 V357.3 H1160.6 V348.9 H1166.0 V340.3 H1167.0 V343.3 H1170.1 V345.3 H1171.4 V337.7 H1176.8 V329.1 H1178.1 V332.1 H1182.1 V324.1 H1183.3 V326.5 H1187.3 V317.6 H1188.6 V320.9 H1191.6 V323.9 H1193.0 V315.3 H1196.9 V318.1 H1198.7 V309.7 H1204.3 V304.1 H1209.9 V296.0 H1211.3 V298.5 H1215.0 V289.3 H1216.7 V292.9 H1220.0 V283.5 H1221.2 V287.3 H1225.1 V277.9 H1226.2 V281.7 H1230.2 V273.1 H1231.9 V276.1 H1236.2 V267.4 H1237.9 V270.5 H1242.3 V261.5 H1243.3 V264.9 H1248.1 V255.4 H1249.7 V259.3 H1254.1 V253.7 H1260.2 V244.6 H1261.3 V248.1 H1265.2 V239.6 H1266.5 V242.5 H1270.3 V234.0 H1271.8 V236.9 H1275.5 V228.9 H1276.6 V231.3 H1280.6 V223.7 H1281.7 V225.7 H1285.6 V220.1 H1289.4 V222.2 H1291.0 V214.5 H1299.3 V208.9 H1307.4 V200.0 H1309.1 V203.3 H1315.5 V197.7 H1323.2 V188.5 H1324.5 V192.1 H1330.3 V184.0 H1331.6 V186.5 H1337.5 V177.6 H1338.8 V180.9 H1344.6 V172.7 H1346.3 V175.3 H1373.2 V171.8 H1374.2 V175.3 H1381.2 V180.9 H1389.5 V177.2 H1390.6 V186.5 H1391.0 H1394.0 V190.0 H1397.0 V196.0 H1400.5 V208.5 H1404.0 V221.0 H1407.0 V230.0 H1410.0 V239.0 H1413.5 V258.5 H1417.0 V278.0 H1421.0 V290.0 H1425.0 V302.0 H1428.0 V315.0 H1431.0 V328.0 H1434.5 V338.5 H1438.0 V349.0 H1441.0 V364.5 H1444.0 V380.0 H1448.0 V389.0 H1452.0 V398.0 H1455.5 V406.5 H1459.0 V415.0 H1463.5 V425.5 H1468.0 V436.0 H1472.5 V441.5 H1477.0 V447.0 H1481.5 V457.5 H1486.0 V468.0 H1490.0 V472.0 H1494.0 V476.0 H1498.0 V480.0 H1501.0 V487.5 H1504.0 V495.0 H1508.5 V498.0 H1513.0 V501.0" fill="none" stroke="#800000" stroke-width="1.6" stroke-linejoin="miter"/>
<g stroke="#000" stroke-width="3.6" fill="none" stroke-linecap="butt"><rect x="265.0" y="53.0" width="1300.0" height="945.5" fill="none"/><line x1="245.0" y1="998.5" x2="265.0" y2="998.5"/><line x1="255.0" y1="931.0" x2="265.0" y2="931.0"/><line x1="245.0" y1="863.4" x2="265.0" y2="863.4"/><line x1="255.0" y1="795.9" x2="265.0" y2="795.9"/><line x1="245.0" y1="728.4" x2="265.0" y2="728.4"/><line x1="255.0" y1="660.8" x2="265.0" y2="660.8"/><line x1="245.0" y1="593.3" x2="265.0" y2="593.3"/><line x1="255.0" y1="525.8" x2="265.0" y2="525.8"/><line x1="245.0" y1="458.2" x2="265.0" y2="458.2"/><line x1="255.0" y1="390.7" x2="265.0" y2="390.7"/><line x1="245.0" y1="323.1" x2="265.0" y2="323.1"/><line x1="255.0" y1="255.6" x2="265.0" y2="255.6"/><line x1="245.0" y1="188.1" x2="265.0" y2="188.1"/><line x1="255.0" y1="120.5" x2="265.0" y2="120.5"/><line x1="245.0" y1="53.0" x2="265.0" y2="53.0"/><line x1="265.0" y1="998.5" x2="265.0" y2="1018.5"/><line x1="395.0" y1="998.5" x2="395.0" y2="1008.5"/><line x1="525.0" y1="998.5" x2="525.0" y2="1018.5"/><line x1="655.0" y1="998.5" x2="655.0" y2="1008.5"/><line x1="785.0" y1="998.5" x2="785.0" y2="1018.5"/><line x1="915.0" y1="998.5" x2="915.0" y2="1008.5"/><line x1="1045.0" y1="998.5" x2="1045.0" y2="1018.5"/><line x1="1175.0" y1="998.5" x2="1175.0" y2="1008.5"/><line x1="1305.0" y1="998.5" x2="1305.0" y2="1018.5"/><line x1="1435.0" y1="998.5" x2="1435.0" y2="1008.5"/><line x1="1565.0" y1="998.5" x2="1565.0" y2="1018.5"/></g>
<g class="t" font-size="55" fill="#000"><text x="231.5" y="1013.0" text-anchor="end">0</text><text x="231.5" y="877.9" text-anchor="end">100</text><text x="231.5" y="742.9" text-anchor="end">200</text><text x="231.5" y="607.8" text-anchor="end">300</text><text x="231.5" y="472.7" text-anchor="end">400</text><text x="231.5" y="337.6" text-anchor="end">500</text><text x="231.5" y="202.6" text-anchor="end">600</text><text x="231.5" y="67.5" text-anchor="end">700</text><text x="265.0" y="1073.5" text-anchor="middle">0.00</text><text x="525.0" y="1073.5" text-anchor="middle">0.05</text><text x="785.0" y="1073.5" text-anchor="middle">0.10</text><text x="1045.0" y="1073.5" text-anchor="middle">0.15</text><text x="1305.0" y="1073.5" text-anchor="middle">0.20</text><text x="1565.0" y="1073.5" text-anchor="middle">0.25</text></g>
<g fill="#fff"><rect x="142.73" y="872.43" width="10.75" height="6.2"/><rect x="158.58" y="872.43" width="11.2" height="6.2"/><rect x="780.34" y="1068.00" width="10.75" height="6.2"/><rect x="796.19" y="1068.00" width="11.2" height="6.2"/><rect x="1040.34" y="1068.00" width="10.75" height="6.2"/><rect x="1056.19" y="1068.00" width="11.2" height="6.2"/></g>
<g class="t" fill="#000"><line x1="323" y1="107.3" x2="429" y2="107.3" stroke="#000000" stroke-width="1.9"/><text x="443" y="122.3" font-size="47"><tspan class="s" font-size="43">α</tspan><tspan dx="4.2">=0° </tspan><tspan class="s" font-size="43" dx="0.5">β</tspan><tspan dx="0.5">=0°</tspan></text><line x1="323" y1="165.8" x2="429" y2="165.8" stroke="#ff0000" stroke-width="1.9"/><text x="443" y="180.8" font-size="47"><tspan class="s" font-size="43">α</tspan><tspan dx="4.2">=0° </tspan><tspan class="s" font-size="43" dx="0.5">β</tspan><tspan dx="0.5">=30°</tspan></text><line x1="323" y1="224.3" x2="429" y2="224.3" stroke="#0000ff" stroke-width="1.9"/><text x="443" y="239.3" font-size="47"><tspan class="s" font-size="43">α</tspan><tspan dx="4.2">=0° </tspan><tspan class="s" font-size="43" dx="0.5">β</tspan><tspan dx="0.5">=60°</tspan></text><line x1="323" y1="282.8" x2="429" y2="282.8" stroke="#ff00ff" stroke-width="1.9"/><text x="443" y="297.8" font-size="47"><tspan class="s" font-size="43">α</tspan><tspan dx="4.2">=30° </tspan><tspan class="s" font-size="43" dx="0.5">β</tspan><tspan dx="0.5">=0°</tspan></text><line x1="323" y1="341.3" x2="429" y2="341.3" stroke="#008000" stroke-width="1.9"/><text x="443" y="356.3" font-size="47"><tspan class="s" font-size="43">α</tspan><tspan dx="4.2">=30° </tspan><tspan class="s" font-size="43" dx="0.5">β</tspan><tspan dx="0.5">=30°</tspan></text><line x1="323" y1="399.8" x2="429" y2="399.8" stroke="#000080" stroke-width="1.9"/><text x="443" y="414.8" font-size="47"><tspan class="s" font-size="43">α</tspan><tspan dx="4.2">=30° </tspan><tspan class="s" font-size="43" dx="0.5">β</tspan><tspan dx="0.5">=60°</tspan></text><line x1="323" y1="458.3" x2="429" y2="458.3" stroke="#8000ff" stroke-width="1.9"/><text x="443" y="473.3" font-size="47"><tspan class="s" font-size="43">α</tspan><tspan dx="4.2">=60° </tspan><tspan class="s" font-size="43" dx="0.5">β</tspan><tspan dx="0.5">=0°</tspan></text><line x1="323" y1="516.8" x2="429" y2="516.8" stroke="#800080" stroke-width="1.9"/><text x="443" y="531.8" font-size="47"><tspan class="s" font-size="43">α</tspan><tspan dx="4.2">=60° </tspan><tspan class="s" font-size="43" dx="0.5">β</tspan><tspan dx="0.5">=30°</tspan></text><line x1="323" y1="575.3" x2="429" y2="575.3" stroke="#800000" stroke-width="1.9"/><text x="443" y="590.3" font-size="47"><tspan class="s" font-size="43">α</tspan><tspan dx="4.2">=60° </tspan><tspan class="s" font-size="43" dx="0.5">β</tspan><tspan dx="0.5">=60°</tspan></text></g>
<text class="s" x="581" y="1181.5" font-size="77" textLength="670" lengthAdjust="spacingAndGlyphs">displacement (mm)</text>
<text class="s" transform="translate(82,669.2) rotate(-90)" x="0" y="0" font-size="81" textLength="160.5" lengthAdjust="spacingAndGlyphs">P(N)</text>
</svg>
</body></html>
